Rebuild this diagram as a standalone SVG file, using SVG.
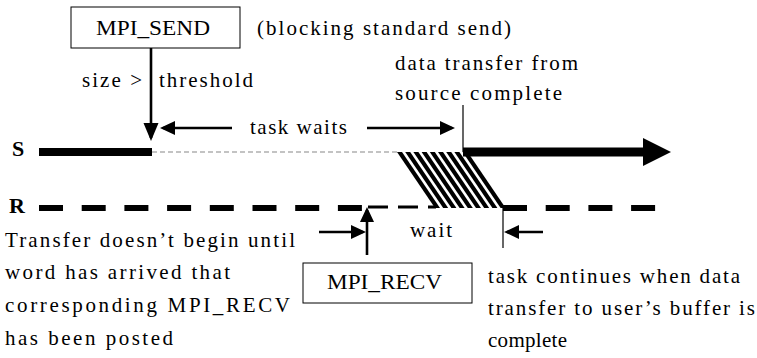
<svg xmlns="http://www.w3.org/2000/svg" width="757" height="358" viewBox="0 0 757 358" font-family="'Liberation Serif', 'DejaVu Serif', 'Times New Roman', serif">
<style>
text{font-family:'Liberation Serif','DejaVu Serif','Times New Roman',serif;font-size:21px;fill:#000}
.b{font-weight:bold;font-size:22px}
.box{fill:#fff;stroke:#000;stroke-width:1}
.ln{stroke:#000;stroke-width:2.6;fill:none}
.thin{stroke:#000;stroke-width:1.2;fill:none}
.hatch polygon{fill:#000}
</style>
<defs>
<marker id="ah" markerUnits="userSpaceOnUse" markerWidth="16" markerHeight="14" refX="12" refY="7" orient="auto" viewBox="0 0 16 14"><path d="M0,0 L15,7 L0,14 z" fill="#000"/></marker>
<marker id="ahL" markerUnits="userSpaceOnUse" markerWidth="19" markerHeight="16" refX="15" refY="7.5" orient="auto" viewBox="0 0 19 16"><path d="M0,0 L18,7.5 L0,15 z" fill="#000"/></marker>
</defs>
<rect width="757" height="358" fill="#fff"/>

<g id="send-timeline">
<text class="b" x="12" y="156">S</text>
<line x1="39" y1="152" x2="152" y2="152" stroke="#000" stroke-width="8"/>
<line x1="152" y1="152" x2="398" y2="152" stroke="#888" stroke-width="1.2" stroke-dasharray="5 3"/>
<line x1="463" y1="152" x2="645" y2="152" stroke="#000" stroke-width="9"/>
<polygon points="643,138 671,152 643,166" fill="#000"/>
<line class="thin" x1="463" y1="105" x2="463" y2="152"/>
</g>

<g id="transfer-hatch" class="hatch">
<polygon points="397,152 402,152 440,208 435,208"/>
<polygon points="405.2,152 410.2,152 448.2,208 443.2,208"/>
<polygon points="413.4,152 418.4,152 456.4,208 451.4,208"/>
<polygon points="421.6,152 426.6,152 464.6,208 459.6,208"/>
<polygon points="429.8,152 434.8,152 472.8,208 467.8,208"/>
<polygon points="438,152 443,152 481,208 476,208"/>
<polygon points="446.2,152 451.2,152 489.2,208 484.2,208"/>
<polygon points="454.4,152 459.4,152 497.4,208 492.4,208"/>
<polygon points="462.6,152 467.6,152 505.6,208 500.6,208"/>
</g>

<g id="recv-timeline">
<text class="b" x="9" y="213">R</text>
<line x1="39" y1="208" x2="362" y2="208" stroke="#000" stroke-width="6" stroke-dasharray="24 18.7"/>
<line x1="368" y1="207" x2="436" y2="207" stroke="#000" stroke-width="3" stroke-dasharray="20 10"/>
<line x1="503" y1="208" x2="656" y2="208" stroke="#000" stroke-width="6" stroke-dasharray="24 18.7"/>
<line class="thin" x1="503" y1="208" x2="503" y2="248"/>
</g>

<g id="mpi-send">
<rect class="box" x="71" y="7" width="169" height="41"/>
<text x="96" y="35" textLength="114" lengthAdjust="spacingAndGlyphs">MPI_SEND</text>
</g>

<g id="mpi-recv">
<rect class="box" x="303" y="263" width="169" height="40"/>
<text x="327" y="289" textLength="115" lengthAdjust="spacingAndGlyphs">MPI_RECV</text>
</g>

<g id="connectors">
<line class="ln" x1="151" y1="48" x2="151" y2="138" marker-end="url(#ahL)"/>
<line class="ln" x1="232" y1="128" x2="163" y2="128" marker-end="url(#ah)"/>
<line class="ln" x1="367" y1="128" x2="452" y2="128" marker-end="url(#ah)"/>
<line class="ln" x1="367" y1="255" x2="367" y2="210" marker-end="url(#ah)"/>
<line class="ln" x1="319" y1="232" x2="363" y2="232" marker-end="url(#ah)"/>
<line class="ln" x1="543" y1="232" x2="507" y2="232" marker-end="url(#ah)"/>
</g>

<g id="labels">
<text x="257" y="35" textLength="254" lengthAdjust="spacing">(blocking standard send)</text>
<text x="82" y="87" textLength="60" lengthAdjust="spacing">size &gt;</text>
<text x="159" y="87" textLength="94" lengthAdjust="spacing">threshold</text>
<text x="250" y="134" textLength="97" lengthAdjust="spacing">task waits</text>
<text x="395" y="70" textLength="183" lengthAdjust="spacing">data transfer from</text>
<text x="395" y="100" textLength="167" lengthAdjust="spacing">source complete</text>
<text x="410" y="237" textLength="42" lengthAdjust="spacing">wait</text>
<text x="5" y="247" textLength="290" lengthAdjust="spacing">Transfer doesn’t begin until</text>
<text x="5" y="279" textLength="225" lengthAdjust="spacing">word has arrived that</text>
<text x="5" y="312" textLength="285" lengthAdjust="spacing">corresponding MPI_RECV</text>
<text x="5" y="345" textLength="168" lengthAdjust="spacing">has been posted</text>
<text x="488" y="283" textLength="252" lengthAdjust="spacing">task continues when data</text>
<text x="488" y="315" textLength="267" lengthAdjust="spacing">transfer to user’s buffer is</text>
<text x="488" y="347" textLength="79" lengthAdjust="spacing">complete</text>
</g>
</svg>
